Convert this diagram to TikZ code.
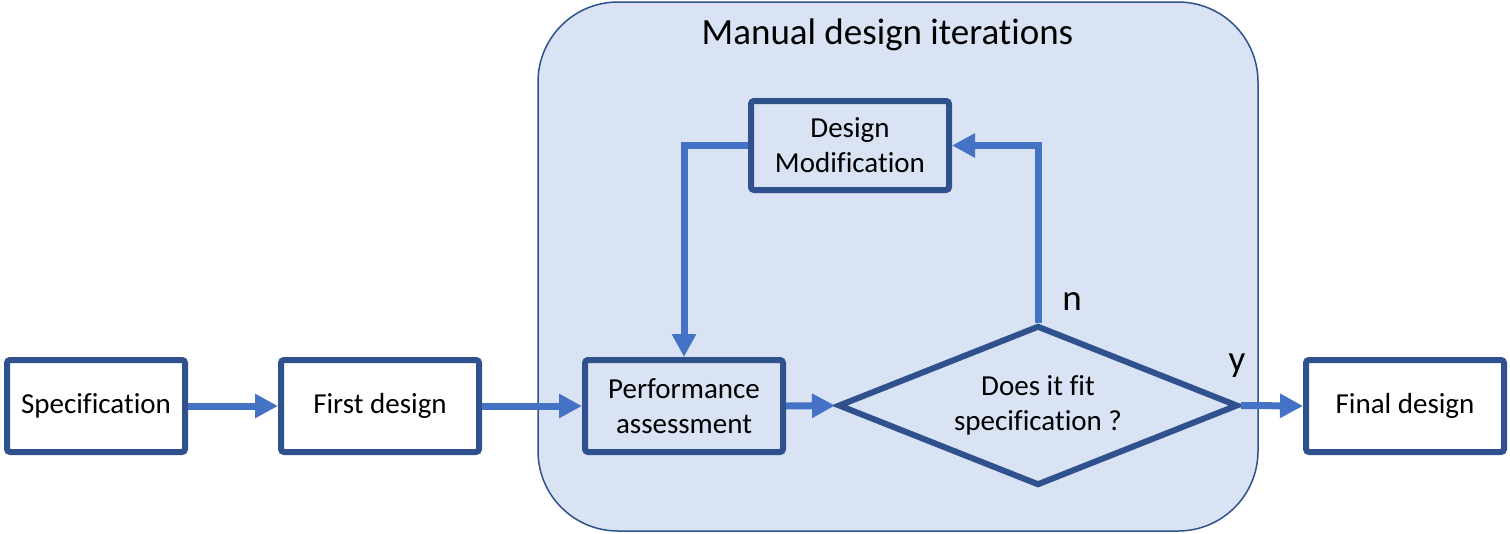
\documentclass[tikz,border=0pt]{standalone}
\usepackage{fontspec}
\setmainfont{Carlito}[Ligatures=NoCommon]
\usetikzlibrary{arrows.meta,shapes.geometric}
\definecolor{dkblue}{HTML}{2F528F}
\definecolor{arrblue}{HTML}{4472C4}
\definecolor{bgblue}{HTML}{DAE3F3}
\tikzset{
  boxtext/.style={font=\fontsize{29}{35}\selectfont, align=center},
  stepbox/.style={boxtext, draw=dkblue, line width=6pt, rounded corners=3pt, fill=white, minimum width=198pt, minimum height=92pt, inner sep=0pt},
  decision/.style={boxtext, diamond, aspect=2.5, draw=dkblue, line width=6pt, fill=bgblue, minimum width=400pt, minimum height=160pt, inner sep=0pt},
  bigbox/.style={draw=dkblue, line width=1.5pt, fill=bgblue, rounded corners=80pt, minimum width=720pt, minimum height=529pt, inner sep=0pt},
  conn/.style={draw=arrblue, line width=7pt, -{Triangle[length=23pt,width=23pt]}},
  bigtext/.style={font=\fontsize{37}{44}\selectfont, inner sep=0pt},
}
\begin{document}
\begin{tikzpicture}[x=1pt, y=-1pt]
\useasboundingbox (0,0) rectangle (1510,533);
\node[bigbox] (iter) at (898,266.5) {};
\node[bigtext] (title) at (887.5,35) {Manual design iterations};
\node[stepbox, minimum width=178pt] (spec) at (96,406) {Specification};
\node[stepbox] (first) at (380,406) {First design};
\node[stepbox, fill=bgblue] (perf) at (684,406) {Performance\\assessment};
\node[stepbox, fill=bgblue, minimum height=89pt] (mod) at (850,145.5) {Design\\Modification};
\node[decision] (diam) at (1038,405.5) {Does it fit\\specification ?};
\node[stepbox] (final) at (1405,406) {Final design};
\node[bigtext] (nlab) at (1072,302) {n};
\node[bigtext] (ylab) at (1237,366) {y};
\draw[conn] (spec.east) -- (first.west);
\draw[conn] (first.east) -- (perf.west);
\draw[conn] (perf.east) -- (diam.west);
\draw[conn] (diam.east) -- (final.west);
\draw[conn] (diam.north) |- (mod.east);
\draw[conn] (mod.west) -| (perf.north);
\end{tikzpicture}
\end{document}
